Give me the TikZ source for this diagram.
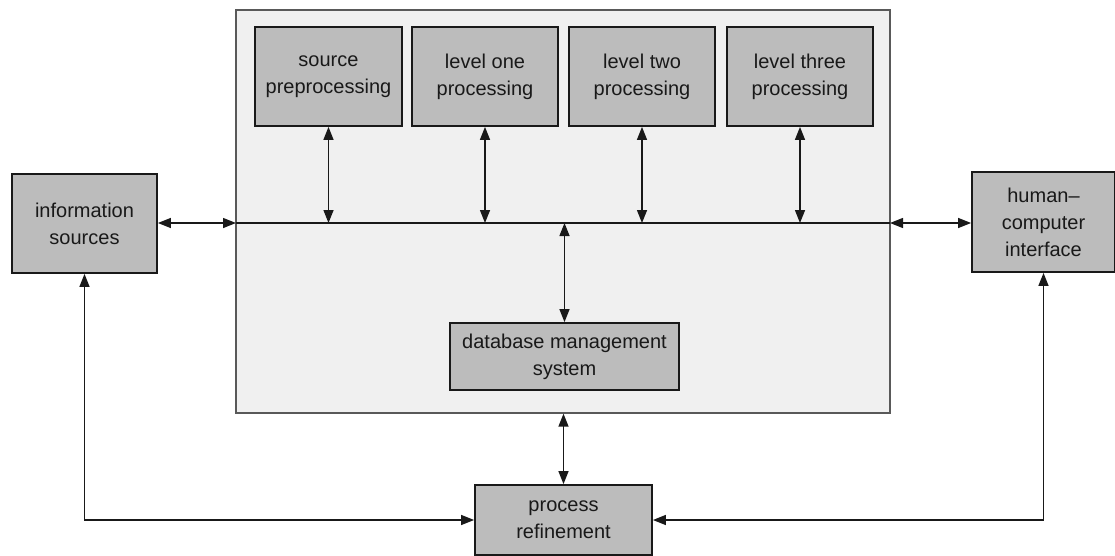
\documentclass[tikz,border=0pt]{standalone}
\usepackage{fontspec}
\setmainfont{Liberation Sans}
\usetikzlibrary{arrows.meta}
\definecolor{boxfill}{RGB}{188,188,188}
\definecolor{corefill}{RGB}{240,240,240}
\definecolor{ink}{RGB}{25,25,25}
\tikzset{
  unit/.style={draw=ink, line width=1.8pt, fill=boxfill, align=center,
    text=ink, inner sep=2pt, font=\fontsize{20}{27}\selectfont},
  core/.style={draw=gray!70!black, line width=1.3pt, fill=corefill},
  link/.style={draw=ink, line width=1.4pt,
    {Triangle[length=13pt,width=10pt]}-{Triangle[length=13pt,width=10pt]}},
}
\begin{document}
\begin{tikzpicture}[x=1pt,y=-1pt]
\useasboundingbox (0,0) rectangle (1115,555);

% central fusion block
\node[core, minimum width=654pt, minimum height=403pt] (core) at (563,211.5) {};

% processing stages
\node[unit, minimum width=147pt, minimum height=99pt] (src) at (328.5,76.5) {source\\preprocessing};
\node[unit, minimum width=146pt, minimum height=99pt] (lone) at (485,76.5) {level one\\processing};
\node[unit, minimum width=146pt, minimum height=99pt] (ltwo) at (642,76.5) {level two\\processing};
\node[unit, minimum width=146pt, minimum height=99pt] (lthree) at (800,76.5) {level three\\processing};
\node[unit, minimum width=229pt, minimum height=67pt] (db) at (564.5,356.5) {database management\\system};

% external blocks
\node[unit, minimum width=145pt, minimum height=99pt] (info) at (84.5,223.5) {information\\sources};
\node[unit, minimum width=143pt, minimum height=100pt] (hci) at (1043.5,222) {human–\\computer\\interface};
\node[unit, minimum width=177pt, minimum height=70pt] (proc) at (563.5,520) {process\\refinement};

% common bus
\coordinate (busL) at (236,223);
\coordinate (busR) at (890,223);
\draw[draw=ink, line width=1.5pt] (busL) -- (busR);

% bus connections
\draw[link] (info.east |- busL) -- (busL);
\draw[link] (busR) -- (hci.west |- busR);
\foreach \n in {src,lone,ltwo,lthree}
  \draw[link] (\n.south |- busL) -- (\n.south);
\draw[link] (db.north |- busL) -- (db.north);

% refinement loops
\draw[link] (core.south -| proc.north) -- (proc.north);
\draw[link] (info.south) |- (proc.west);
\draw[link] (hci.south) |- (proc.east);
\end{tikzpicture}
\end{document}
